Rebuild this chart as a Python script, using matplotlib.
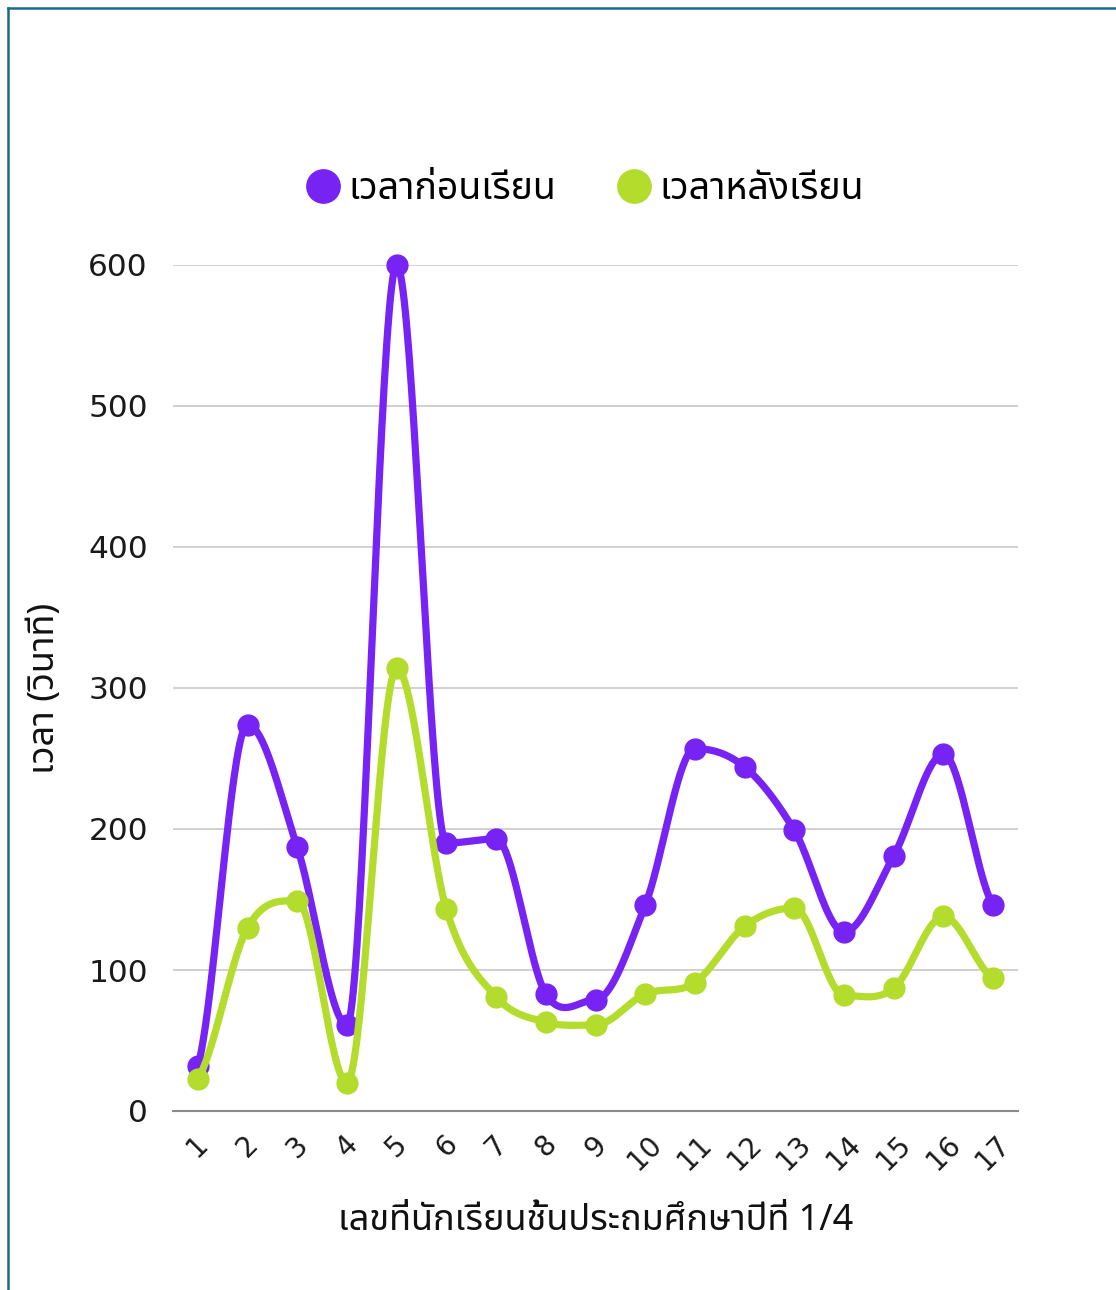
import numpy as np
import matplotlib
matplotlib.use("Agg")
import matplotlib.pyplot as plt
from matplotlib import font_manager
from matplotlib.lines import Line2D

# ---- data ----
students = list(range(1, 18))
before = [32, 274, 187, 61, 600, 190, 193, 83, 79, 146, 257, 244, 199, 127, 181, 253, 146]
after = [23, 130, 149, 20, 314, 143, 81, 63, 61, 83, 91, 131, 144, 82, 87, 138, 94]
series_names = ["เวลาก่อนเรียน", "เวลาหลังเรียน"]
x_title = "เลขที่นักเรียนชั้นประถมศึกษาปีที่ 1/4"
y_title = "เวลา (วินาที)"
y_ticks = [0, 100, 200, 300, 400, 500, 600]

PURPLE = "#7623F3"
GREEN = "#B3DC2D"

available = {f.name for f in font_manager.fontManager.ttflist}
def pick(*names):
    for n in names:
        if n in available:
            return n
    return "DejaVu Sans"

thai_font = pick("Noto Sans Thai", "Sarabun", "IBM Plex Sans Thai", "Anuphan")
num_font = "DejaVu Sans"
plt.rcParams["font.family"] = [thai_font, "DejaVu Sans"]


def smooth(xs, ys, n=40, tension=0.5):
    """Hermite spline through the points; flat tangents at local extrema."""
    xs = np.asarray(xs, float)
    ys = np.asarray(ys, float)
    k = len(ys)
    m = np.zeros(k)
    for i in range(k):
        lo = ys[max(i - 1, 0)]
        hi = ys[min(i + 1, k - 1)]
        if 0 < i < k - 1 and (ys[i] - lo) * (hi - ys[i]) <= 0:
            m[i] = 0.0
        else:
            m[i] = tension * (hi - lo)
    t = np.linspace(0, 1, n, endpoint=False)
    h00 = 2 * t**3 - 3 * t**2 + 1
    h10 = t**3 - 2 * t**2 + t
    h01 = -2 * t**3 + 3 * t**2
    h11 = t**3 - t**2
    out_x, out_y = [], []
    for i in range(k - 1):
        dx = xs[i + 1] - xs[i]
        out_x.append(xs[i] + t * dx)
        out_y.append(h00 * ys[i] + h10 * m[i] + h01 * ys[i + 1] + h11 * m[i + 1])
    out_x.append([xs[-1]])
    out_y.append([ys[-1]])
    return np.concatenate(out_x), np.concatenate(out_y)


fig = plt.figure(figsize=(11.16, 12.9), dpi=100)
ax = fig.add_axes([173 / 1116, 1 - 1111 / 1290, (1018 - 173) / 1116, (1111 - 265) / 1290])

for vals, col, z in [(before, PURPLE, 3), (after, GREEN, 4)]:
    sx, sy = smooth(students, vals)
    ax.plot(sx, sy, color=col, lw=5.2, solid_capstyle="round", zorder=z, clip_on=False)
    ax.plot(students, vals, "o", color=col, ms=15, zorder=z, clip_on=False)

ax.set_xlim(0.5, 17.5)
ax.set_ylim(0, 600)
ax.set_yticks(y_ticks)
ax.set_yticklabels([str(v) for v in y_ticks], fontsize=22.5, family=num_font, color="#1a1a1a")
ax.set_xticks(students)
ax.set_xticklabels([str(s) for s in students], rotation=45, ha="center", va="top",
                   fontsize=20, family=num_font, color="#1a1a1a")
ax.tick_params(axis="both", length=0)
ax.tick_params(axis="y", pad=18)
ax.tick_params(axis="x", pad=14)
ax.grid(axis="y", color="#c8c8c8", lw=1.2, zorder=0)
ax.set_axisbelow(True)
for s in ["top", "right", "left"]:
    ax.spines[s].set_visible(False)
ax.spines["bottom"].set_color("#8a8a8a")
ax.spines["bottom"].set_linewidth(1.5)

ax.set_xlabel(x_title, fontsize=26, color="#111111", labelpad=20)
ax.set_ylabel(y_title, fontsize=26, color="#111111", labelpad=18)

handles = [Line2D([], [], marker="o", ls="none", color=c, ms=24) for c in (PURPLE, GREEN)]
fig.legend(handles, series_names, loc="center", bbox_to_anchor=(585 / 1116, 1 - 189 / 1290),
           ncol=2, frameon=False, fontsize=27, handletextpad=0.25, columnspacing=1.6,
           handlelength=0.9)

# frame lines along the top and left edges
fig.add_artist(Line2D([8 / 1116, 8 / 1116], [0, 1 - 8 / 1290], transform=fig.transFigure,
                      color="#19698A", lw=1.8))
fig.add_artist(Line2D([8 / 1116, 1], [1 - 8 / 1290, 1 - 8 / 1290], transform=fig.transFigure,
                      color="#19698A", lw=1.8))

fig.savefig("out.png", dpi=100, facecolor="white")
